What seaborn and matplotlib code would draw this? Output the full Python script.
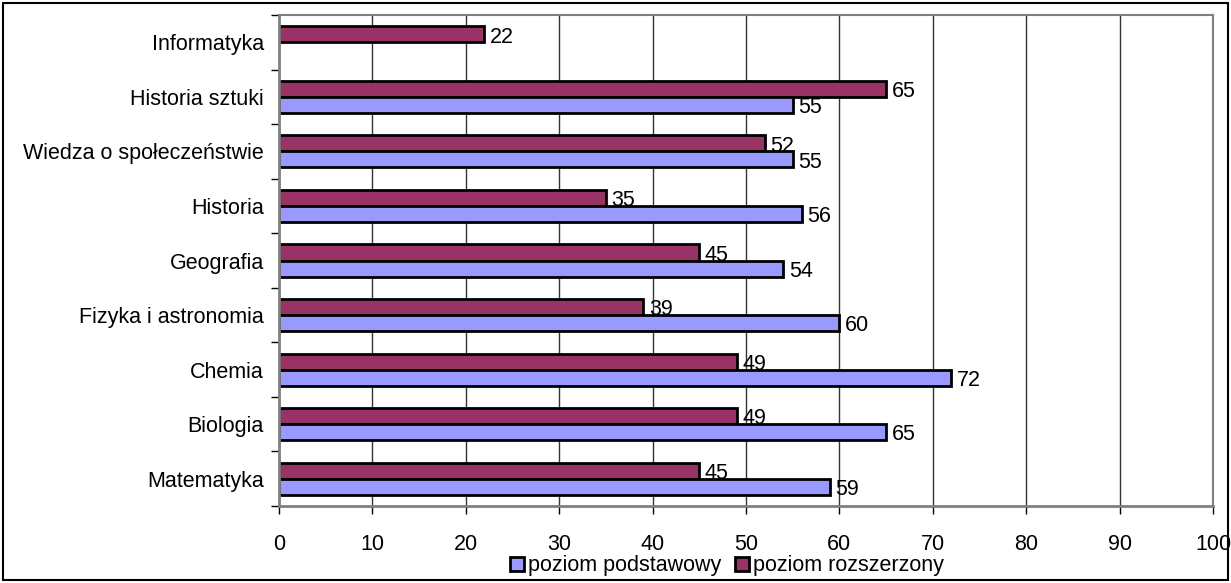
import matplotlib
matplotlib.use("Agg")
import matplotlib.pyplot as plt
import seaborn as sns
import pandas as pd
import numpy as np
from matplotlib.patches import Patch

categories = ["Informatyka", "Historia sztuki", "Wiedza o społeczeństwie", "Historia",
              "Geografia", "Fizyka i astronomia", "Chemia", "Biologia", "Matematyka"]
podstawowy = [np.nan, 55, 55, 56, 54, 60, 72, 65, 59]
rozszerzony = [22, 65, 52, 35, 45, 39, 49, 49, 45]
series_names = ["poziom rozszerzony", "poziom podstawowy"]
x_ticks = [0, 10, 20, 30, 40, 50, 60, 70, 80, 90, 100]

colors = {"poziom podstawowy": "#9999FF", "poziom rozszerzony": "#993366"}

rows = []
for c, r, p in zip(categories, rozszerzony, podstawowy):
    rows.append({"cat": c, "series": "poziom rozszerzony", "val": r})
    rows.append({"cat": c, "series": "poziom podstawowy", "val": p})
df = pd.DataFrame(rows)

sns.set_theme(style="white")
plt.rcParams['font.family'] = ['Liberation Sans', 'DejaVu Sans']
plt.rcParams['text.color'] = 'black'
plt.rcParams['xtick.color'] = 'black'
plt.rcParams['ytick.color'] = 'black'

FS = 15.5

fig = plt.figure(figsize=(12.31, 5.83), dpi=100)
ax = fig.add_axes([279/1231, 1-506/583, (1213-279)/1231, (506-15)/583])

sns.barplot(data=df, y="cat", x="val", hue="series", order=categories,
            hue_order=series_names, palette=colors, orient="h", saturation=1,
            width=0.59, edgecolor="black", linewidth=2, ax=ax, legend=False,
            errorbar=None)

for cont in ax.containers:
    labels = []
    for b in cont:
        w = b.get_width()
        labels.append("" if (w is None or np.isnan(w)) else f"{w:.0f}")
    txts = ax.bar_label(cont, labels=labels, padding=4, fontsize=FS, color="black")
    for t in txts:
        x, y = t.xyann
        t.xyann = (x, y - 2)

ax.set_xlim(0, 100)
ax.set_xticks(x_ticks)
ax.set_xticklabels([str(t) for t in x_ticks], fontsize=FS)
ax.set_ylim(len(categories) - 0.5, -0.5)
ax.set_yticks(range(len(categories)))
ax.set_yticklabels(categories, fontsize=FS)
ax.set_yticks(np.arange(-0.5, len(categories), 1), minor=True)
ax.tick_params(axis="y", which="major", length=0, pad=11, labelcolor="black")
ax.tick_params(axis="y", which="minor", length=6, width=1, color="black", direction="out", left=True)
ax.tick_params(axis="x", which="major", length=6, width=1, color="black", direction="out",
               bottom=True, pad=14, labelcolor="black")
ax.xaxis.grid(True, color="#333333", linewidth=1)
ax.set_axisbelow(True)
ax.set_xlabel("")
ax.set_ylabel("")
for s in ["left", "bottom"]:
    ax.spines[s].set_color("#808080")
    ax.spines[s].set_linewidth(2)
for s in ["top", "right"]:
    ax.spines[s].set_color("#808080")
    ax.spines[s].set_linewidth(1.5)

handles = [Patch(facecolor=colors["poziom podstawowy"], edgecolor="black", linewidth=2),
           Patch(facecolor=colors["poziom rozszerzony"], edgecolor="black", linewidth=2)]
fig.legend(handles, ["poziom podstawowy", "poziom rozszerzony"], loc="center",
           bbox_to_anchor=(727/1231, 1-566/583), ncol=2, frameon=False, fontsize=FS,
           handlelength=0.65, handleheight=0.65, handletextpad=0.2, columnspacing=0.6,
           borderpad=0, labelcolor="black")

fig.patches.append(matplotlib.patches.Rectangle((3/1231, 3/583), 1-6/1231, 1-6/583,
                   transform=fig.transFigure, fill=False, edgecolor="black", linewidth=1.5))

fig.savefig("out.png", dpi=100, facecolor="white")
